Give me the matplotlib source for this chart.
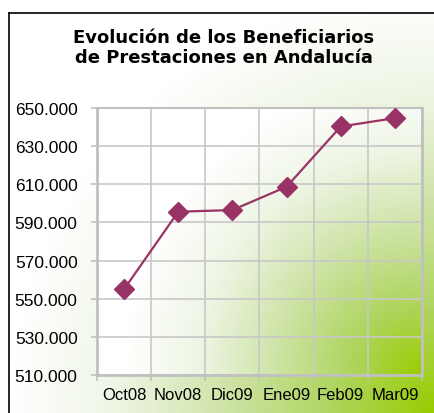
import numpy as np
import matplotlib
matplotlib.use("Agg")
import matplotlib.pyplot as plt
from matplotlib.colors import LinearSegmentedColormap
from matplotlib.lines import Line2D
from matplotlib.ticker import FuncFormatter, MultipleLocator

# monthly beneficiaries
months = ["Oct08", "Nov08", "Dic09", "Ene09", "Feb09", "Mar09"]
beneficiarios = [555000, 595600, 596500, 608700, 640300, 644700]
y_ticks = [510000, 530000, 550000, 570000, 590000, 610000, 630000, 650000]

plt.rcParams['font.family'] = ['Liberation Sans', 'DejaVu Sans']

W, H, DPI = 435, 414, 100
fig = plt.figure(figsize=(W / DPI, H / DPI), dpi=DPI)
fig.patch.set_facecolor('white')

# white -> lime green, strongest at the bottom right corner
green = LinearSegmentedColormap.from_list(
    'greenfade',
    [(0.0, '#ffffff'), (0.25, '#eef5e4'), (0.5, '#cfe4a8'),
     (0.75, '#b0d561'), (1.0, '#99cc00')])

def corner_fade(w, h, radius):
    xx, yy = np.meshgrid(np.arange(w), np.arange(h))
    d = np.hypot(w - xx, h - yy)
    s = np.clip(1 - d / radius, 0, 1)
    return green(s)

# chart area background inside the black frame
bg = fig.add_axes([0, 0, 1, 1])
bg.set_axis_off()
img = corner_fade(W, H, 425)
img[:14, :, :3] = 1.0
img[:, :9, :3] = 1.0
bg.imshow(img, extent=[0, W, H, 0], aspect='auto', interpolation='bilinear')
bg.set_xlim(0, W)
bg.set_ylim(H, 0)
bg.add_line(Line2D([9, 9], [14, H], color='black', lw=1.2))
bg.add_line(Line2D([9, W], [14, 14], color='black', lw=1.2))

title_font = dict(ha='center', va='center', fontsize=13, fontweight='bold',
                  family='DejaVu Sans')
fig.text(224 / W, 1 - 38 / H, "Evolución de los Beneficiarios", **title_font)
fig.text(224 / W, 1 - 58 / H, "de Prestaciones en Andalucía", **title_font)

ax = fig.add_axes([97 / W, 1 - 376 / H, (422 - 97) / W, (376 - 109) / H])
ax.set_facecolor('none')
ax.imshow(corner_fade(325, 267, 300), extent=[0, 1, 0, 1],
          transform=ax.transAxes, aspect='auto', zorder=0,
          interpolation='bilinear')

x = np.arange(len(months))
ax.plot(x, beneficiarios, color='#993366', lw=1.6, marker='D',
        markersize=10, zorder=5)

ax.set_xlim(-0.5, len(months) - 0.5)
ax.set_ylim(y_ticks[0], y_ticks[-1])
ax.set_yticks(y_ticks)
ax.yaxis.set_major_formatter(FuncFormatter(lambda v, p: f"{int(v):,}".replace(",", ".")))
ax.set_xticks(x)
ax.set_xticklabels(months)
ax.xaxis.set_minor_locator(MultipleLocator(1, offset=0.5))

ax.grid(True, which='major', axis='y', color='#c8c8c8', lw=1.2, zorder=1)
ax.grid(True, which='minor', axis='x', color='#c8c8c8', lw=1.2, zorder=1)
ax.tick_params(axis='x', which='major', length=0, labelsize=12, pad=9)
ax.tick_params(axis='x', which='minor', length=4, color='#c0c0c0', width=1.2)
ax.tick_params(axis='y', length=4, color='#c0c0c0', width=1.2, labelsize=12.5, pad=10)
for side, sp in ax.spines.items():
    sp.set_color('#c0c0c0')
    sp.set_linewidth(2 if side in ('left', 'bottom', 'right') else 1.5)

fig.savefig('out.png', dpi=DPI)
